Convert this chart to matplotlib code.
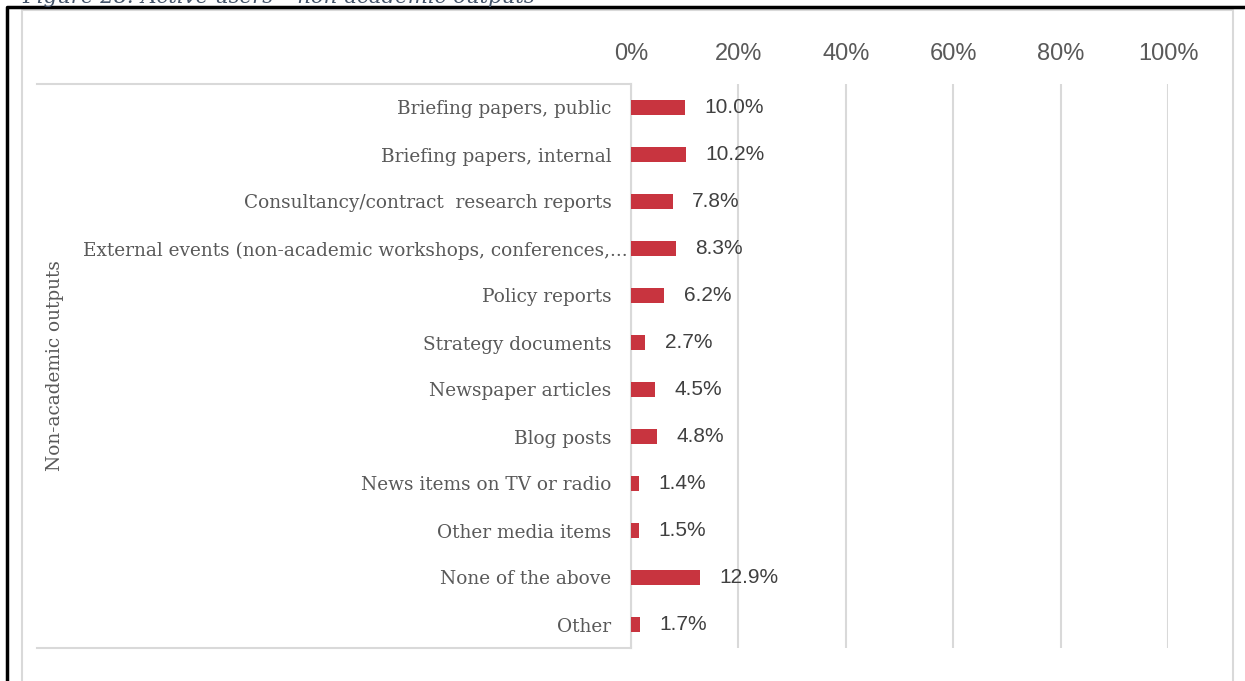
import matplotlib.pyplot as plt
import matplotlib.transforms as mtransforms
from matplotlib.lines import Line2D

# Share of active users producing each kind of non-academic output
categories = [
    'Briefing papers, public',
    'Briefing papers, internal',
    'Consultancy/contract  research reports',
    'External events (non-academic workshops, conferences,...',
    'Policy reports',
    'Strategy documents',
    'Newspaper articles',
    'Blog posts',
    'News items on TV or radio',
    'Other media items',
    'None of the above',
    'Other',
]
values = [10.0, 10.2, 7.8, 8.3, 6.2, 2.7, 4.5, 4.8, 1.4, 1.5, 12.9, 1.7]
ticks = [0, 20, 40, 60, 80, 100]

W, H = 1245, 681
bar_color = '#C8343F'
grid_color = '#D9D9D9'
label_color = '#595959'

fig = plt.figure(figsize=(W / 100, H / 100), dpi=100)

def fx(px):
    return px / W

def fy(py):
    return 1 - py / H

# plot area in pixel terms
left, right, top, bottom = 631, 1168, 84, 648
ax = fig.add_axes([fx(left), fy(bottom), fx(right - left), (bottom - top) / H])

y = list(range(len(categories)))
ax.barh(y, values, height=0.32, color=bar_color, zorder=3)
for yi, v in zip(y, values):
    ax.annotate(f'{v:.1f}%', (v, yi), xytext=(14, 0), textcoords='offset points',
                va='center', ha='left', fontsize=15, color='#404040',
                family='Liberation Sans', zorder=4)

ax.set_xlim(0, 100)
ax.set_ylim(len(categories) - 0.5, -0.5)
ax.set_xticks(ticks)
ax.set_xticklabels([f'{t}%' for t in ticks], fontsize=17, color=label_color,
                   family='Liberation Sans')
ax.xaxis.tick_top()
ax.tick_params(axis='x', length=0, pad=13.5)
ax.set_yticks(y)
ax.set_yticklabels(categories, fontsize=13.3, color=label_color, family='DejaVu Serif')
ax.tick_params(axis='y', length=0, pad=14)
# the truncated long label runs right up to the axis
long_lbl = ax.get_yticklabels()[3]
long_lbl.set_transform(long_lbl.get_transform() +
                       mtransforms.ScaledTranslation(16 / 100, 0, fig.dpi_scale_trans))
ax.grid(axis='x', color=grid_color, linewidth=1.5, zorder=0)
for s in ['top', 'right', 'bottom']:
    ax.spines[s].set_visible(False)
ax.spines['left'].set_color(grid_color)
ax.spines['left'].set_linewidth(1.5)

# category group bracket and its label
for py in (top, bottom):
    fig.add_artist(Line2D([fx(37), fx(left)], [fy(py), fy(py)], color=grid_color, lw=1.5))
fig.text(fx(55), fy((top + bottom) / 2), 'Non-academic outputs', rotation=90,
         ha='center', va='center', fontsize=13.3, color=label_color, family='DejaVu Serif')

# chart area border
fig.add_artist(Line2D([fx(22), fx(22), fx(1233), fx(1233)], [0, fy(10), fy(10), 0],
                      color=grid_color, lw=1.5))
# outer frame
fig.add_artist(Line2D([fx(7), fx(7), fx(1245)], [0, fy(7), fy(7)], color='black', lw=2.5))

# figure caption, clipped by the top edge
fig.text(fx(22), fy(3), 'Figure 28: Active users \u2013 non-academic outputs', ha='left',
         va='baseline', fontsize=15.3, style='italic', color='#44546A', family='DejaVu Serif')

fig.savefig('out.png', dpi=100)
